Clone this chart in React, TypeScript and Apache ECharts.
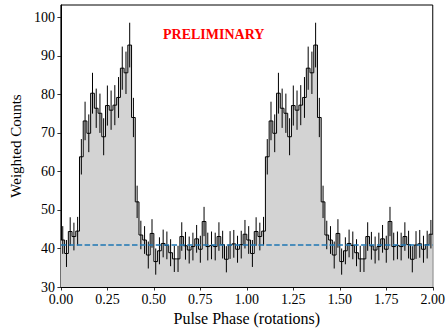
import React, { useEffect, useRef } from "react";
import * as echarts from "echarts";

// One rotation of the pulse profile, 50 phase bins (values repeated for the 2nd rotation)
const binsPerRotation = 50;
const rotations = 2;
const counts = [
  42.2, 38.7, 44.4, 43.1, 44.5, 63.8, 73.1, 69.9, 80.3, 76.4,
  75.1, 69.0, 77.1, 75.9, 77.2, 79.2, 86.8, 85.6, 92.8, 74.0,
  52.1, 43.5, 42.2, 38.3, 43.9, 36.6, 39.4, 41.3, 40.8, 38.9,
  37.3, 37.3, 43.1, 40.7, 39.6, 40.5, 42.5, 39.8, 47.0, 40.5,
  40.8, 40.5, 43.1, 41.0, 37.2, 40.9, 41.2, 39.8, 41.0, 43.7,
];
const errors = [
  3.6, 3.5, 3.7, 3.6, 3.7, 4.6, 5.0, 4.9, 5.3, 5.1,
  5.1, 4.8, 5.2, 5.1, 5.2, 5.3, 5.6, 5.5, 5.8, 5.1,
  4.2, 3.7, 3.6, 3.5, 3.7, 3.4, 3.5, 3.6, 3.6, 3.5,
  3.4, 3.4, 3.7, 3.6, 3.5, 3.6, 3.6, 3.5, 3.8, 3.6,
  3.6, 3.6, 3.7, 3.6, 3.4, 3.6, 3.6, 3.5, 3.6, 3.7,
];
const backgroundLevel = 40.9;
const xTicks = [0, 0.25, 0.5, 0.75, 1.0, 1.25, 1.5, 1.75, 2.0];
const yTicks = [30, 40, 50, 60, 70, 80, 90, 100];

const FONT = '"Liberation Serif", "Times New Roman", serif';

export default function App() {
  const ref = useRef<HTMLDivElement>(null);

  useEffect(() => {
    if (!ref.current) return;
    const chart = echarts.init(ref.current, undefined, { renderer: "svg" });

    const stepData: number[][] = [];
    const errData: number[][] = [];
    for (let r = 0; r < rotations; r++) {
      for (let i = 0; i < binsPerRotation; i++) {
        const k = r * binsPerRotation + i;
        stepData.push([k / binsPerRotation, counts[i]]);
        errData.push([(k + 0.5) / binsPerRotation, counts[i] - errors[i], counts[i] + errors[i]]);
      }
    }
    stepData.push([rotations, counts[binsPerRotation - 1]]);

    chart.setOption({
      animation: false,
      backgroundColor: "#ffffff",
      textStyle: { fontFamily: FONT },
      grid: {
        left: 58,
        right: 11.5,
        top: 5,
        bottom: 46,
        show: true,
        borderColor: "#000",
        borderWidth: 1,
        backgroundColor: "transparent",
      },
      xAxis: {
        type: "value",
        min: 0,
        max: 2,
        interval: 0.25,
        name: "Pulse Phase (rotations)",
        nameLocation: "middle",
        nameGap: 23,
        nameTextStyle: { fontFamily: FONT, fontSize: 16, color: "#000" },
        axisLine: { show: true, lineStyle: { color: "#000", width: 1 } },
        axisTick: { show: true, inside: false, length: 3.5, lineStyle: { color: "#000", width: 0.8 } },
        axisLabel: {
          margin: 5,
          fontFamily: FONT,
          fontSize: 14,
          color: "#000",
          customValues: xTicks,
          formatter: (v: number) => v.toFixed(2),
        },
        splitLine: { show: false },
      },
      yAxis: {
        type: "value",
        min: 30,
        max: 103.2,
        interval: 10,
        name: "Weighted Counts",
        nameLocation: "middle",
        nameGap: 33,
        nameTextStyle: { fontFamily: FONT, fontSize: 15, color: "#000" },
        axisLine: { show: true, lineStyle: { color: "#000", width: 1 } },
        axisTick: { show: true, inside: false, length: 3.5, lineStyle: { color: "#000", width: 0.8 }, customValues: yTicks },
        axisLabel: {
          margin: 6,
          fontFamily: FONT,
          fontSize: 14,
          color: "#000",
          customValues: yTicks,
          formatter: (v: number) => String(Math.round(v)),
        },
        splitLine: { show: false },
      },
      graphic: [
        {
          type: "text",
          left: 163,
          top: 27,
          style: {
            text: "PRELIMINARY",
            fill: "#ff0000",
            font: `bold 14px ${FONT}`,
          },
          z: 100,
        },
      ],
      series: [
        {
          type: "line",
          data: stepData,
          step: "end",
          symbol: "none",
          lineStyle: { width: 0, opacity: 0 },
          areaStyle: { color: "#d3d3d3", opacity: 1, origin: "start" },
          silent: true,
          z: 1,
        },
        {
          type: "custom",
          data: errData,
          encode: { x: 0, y: [1, 2] },
          clip: true,
          silent: true,
          z: 2,
          renderItem: (params: any, api: any) => {
            const x = api.value(0);
            const p1 = api.coord([x, api.value(1)]);
            const p2 = api.coord([x, api.value(2)]);
            return {
              type: "line",
              shape: { x1: p1[0], y1: p1[1], x2: p2[0], y2: p2[1] },
              style: { stroke: "#000", lineWidth: 1 },
            };
          },
        },
        {
          type: "line",
          data: stepData,
          step: "end",
          symbol: "none",
          lineStyle: { color: "#000", width: 1 },
          silent: true,
          z: 3,
          markLine: {
            silent: true,
            symbol: "none",
            label: { show: false },
            lineStyle: { color: "#1f77b4", width: 1.5, type: [5.5, 2.4] },
            data: [{ yAxis: backgroundLevel }],
          },
        },
      ],
    });

    return () => chart.dispose();
  }, []);

  return (
    <div
      ref={ref}
      style={{ position: "fixed", left: 0, top: 0, width: 448, height: 333, background: "#fff" }}
    />
  );
}
